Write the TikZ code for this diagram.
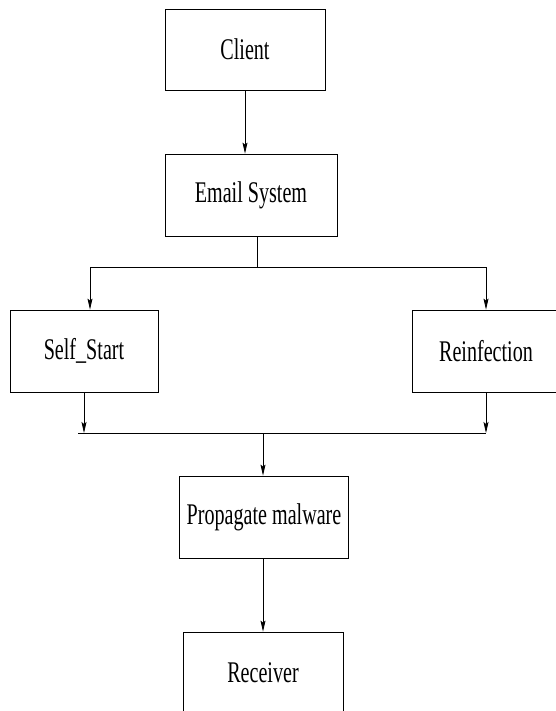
\documentclass[tikz,border=0pt]{standalone}
\usepackage{fontspec}
\setmainfont{Liberation Serif}[FakeStretch=0.67]
\usetikzlibrary{arrows.meta}

\begin{document}
\begin{tikzpicture}[x=1pt,y=-1pt,
	box/.style={draw, line width=0.8pt, inner sep=0pt, font=\fontsize{30}{34}\selectfont},
	flow/.style={line width=0.8pt, -{Stealth[length=11pt,width=5pt,inset=2pt]}}]
	\useasboundingbox (0,0) rectangle (555,711);
	\node[box, minimum width=160, minimum height=81] (client) at (245,49.5) {Client};
	\node[box, minimum width=172, minimum height=82] (email) at (251,195) {Email System};
	\node[box, minimum width=148, minimum height=82] (selfstart) at (84,351) {Self\_Start};
	\node[box, minimum width=148, minimum height=82] (reinf) at (486,351) {Reinfection};
	\node[box, minimum width=169, minimum height=82] (propagate) at (264,517) {Propagate malware};
	\node[box, minimum width=160, minimum height=82] (receiver) at (263,673) {Receiver};
	% split below the email system
	\coordinate (split) at (257,267);
	\coordinate (splitl) at (90,267);
	\coordinate (splitr) at (486,267);
	% join above propagate
	\coordinate (merge) at (263,433);
	\coordinate (mergel) at (78,433);
	\coordinate (merger) at (486,433);
	\draw[flow] (client.south) -- (client.south |- email.north);
	\draw[line width=0.8pt] (email.south -| split) -- (split);
	\draw[line width=0.8pt] (splitl) -- (splitr);
	\draw[flow] (splitl) -- (splitl |- selfstart.north);
	\draw[flow] (splitr) -- (splitr |- reinf.north);
	\draw[flow] (selfstart.south) -- (selfstart.south |- mergel);
	\draw[flow] (reinf.south) -- (reinf.south |- merger);
	\draw[line width=0.8pt] (mergel) -- (merger);
	\draw[flow] (merge) -- (merge |- propagate.north);
	\draw[flow] (receiver.north |- propagate.south) -- (receiver.north);
\end{tikzpicture}
\end{document}
